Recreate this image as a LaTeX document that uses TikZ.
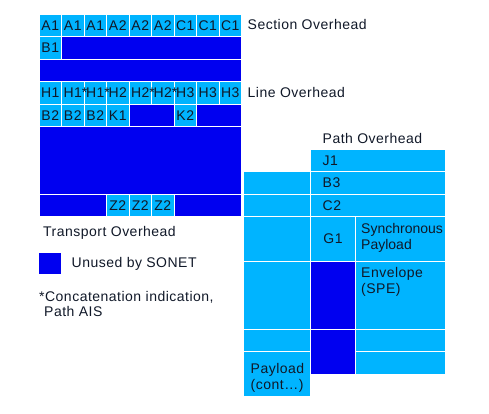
\documentclass[tikz,border=0pt]{standalone}
\usepackage{fontspec}
\setmainfont{Liberation Sans}[LetterSpace=3.5]
\definecolor{lb}{HTML}{00B4FF}
\definecolor{db}{HTML}{0000F0}
\definecolor{tx}{HTML}{101828}
\newcommand\fs{\fontsize{14}{16}\selectfont}
\begin{document}
\begin{tikzpicture}[x=1pt,y=-1pt,
  cell/.style={draw=white, line width=1pt, fill=lb, inner sep=0pt, outer sep=0pt,
    anchor=north west, text=tx, font=\fs, minimum width=22.5pt, minimum height=22.5pt},
  ub/.style={cell, fill=db},
  lbl/.style={anchor=west, text=tx, font=\fs, inner sep=0pt, align=left}]
\path[use as bounding box] (0,0) rectangle (489,413);
% ---- Transport overhead ----
\foreach \t [count=\i from 0] in {A1,A1,A1,A2,A2,A2,C1,C1,C1}
  \node[cell] (r0c\i) at ({39+22.5*\i},14) {\t};
\node[cell] (b1) at (39,36.5) {B1};
\node[ub, minimum width=180pt] (r1u) at (61.5,36.5) {};
\node[ub, minimum width=202.5pt] (r2u) at (39,59) {};
% drawn right to left so that each asterisk stays above the next cell
\foreach \i/\t in {8/H3,7/H3,6/H3,5/H2\rlap{*},4/H2\rlap{*},3/H2,2/H1\rlap{*},1/H1\rlap{*},0/H1}
  \node[cell] (r3c\i) at ({39+22.5*\i},81.5) {\t};
\foreach \t [count=\i from 0] in {B2,B2,B2,K1}
  \node[cell] (r4c\i) at ({39+22.5*\i},104) {\t};
\node[ub, minimum width=45pt] (r4u1) at (129,104) {};
\node[cell] (k2) at (174,104) {K2};
\node[ub, minimum width=45pt] (r4u2) at (196.5,104) {};
\node[ub, minimum width=202.5pt, minimum height=67.5pt] (r5u) at (39,126.5) {};
\node[ub, minimum width=67.5pt] (r8u1) at (39,194) {};
\foreach \i in {3,4,5}
  \node[cell] (r8c\i) at ({39+22.5*\i},194) {Z2};
\node[ub, minimum width=67.5pt] (r8u2) at (174,194) {};
% ---- Path overhead / SPE ----
\node[cell, minimum width=135pt] (j1) at (310.5,149) {};
\node[cell, minimum width=67.5pt] (p7l) at (243,171.5) {};
\node[cell, minimum width=135pt] (b3) at (310.5,171.5) {};
\node[cell, minimum width=67.5pt] (p8l) at (243,194) {};
\node[cell, minimum width=135pt] (c2) at (310.5,194) {};
\node[cell, minimum width=67.5pt, minimum height=45pt] (p9l) at (243,216.5) {};
\node[cell, minimum width=45pt, minimum height=45pt] (g1) at (310.5,216.5) {G1};
\node[cell, minimum width=90pt, minimum height=45pt] (sp) at (355.5,216.5) {};
\node[cell, minimum width=67.5pt, minimum height=67.5pt] (p11l) at (243,261.5) {};
\node[ub, minimum width=45pt, minimum height=67.5pt] (p11m) at (310.5,261.5) {};
\node[cell, minimum width=90pt, minimum height=67.5pt] (env) at (355.5,261.5) {};
\node[cell, minimum width=67.5pt] (p14l) at (243,329) {};
\node[ub, minimum width=45pt, minimum height=45pt] (p14m) at (310.5,329) {};
\node[cell, minimum width=90pt] (p14r) at (355.5,329) {};
\node[cell, minimum width=67.5pt, minimum height=45pt] (cont) at (243,351.5) {};
\node[cell, minimum width=90pt] (p15r) at (355.5,351.5) {};
% ---- texts ----
\node[lbl] (tj1) at (322.5,160.5) {J1};
\node[lbl] (tb3) at (322.5,183) {B3};
\node[lbl] (tc2) at (322.5,205.5) {C2};
\node[lbl, anchor=north west, font=\fs\addfontfeature{LetterSpace=0}] (tsp) at (361,223) {Synchronous\\Payload};
\node[lbl, anchor=north west] (tenv) at (361,267) {Envelope\\(SPE)};
\node[lbl, anchor=north west] (tcont) at (250.5,363) {Payload\\(cont…)};
\node[lbl] (tso) at (247.5,24) {Section Overhead};
\node[lbl] (tlo) at (247.5,92) {Line Overhead};
\node[lbl] (tpo) at (322.5,138) {Path Overhead};
\node[lbl] (tto) at (43,233) {Transport Overhead};
\node[ub, draw=none, minimum width=22pt, minimum height=21.5pt] (leg) at (39,252.5) {};
\node[lbl] (tleg) at (71.5,264) {Unused by SONET};
\node[lbl] (tcc) at (39,297) {*Concatenation indication,};
\node[lbl] (tais) at (44,311.5) {Path AIS};
\end{tikzpicture}
\end{document}
